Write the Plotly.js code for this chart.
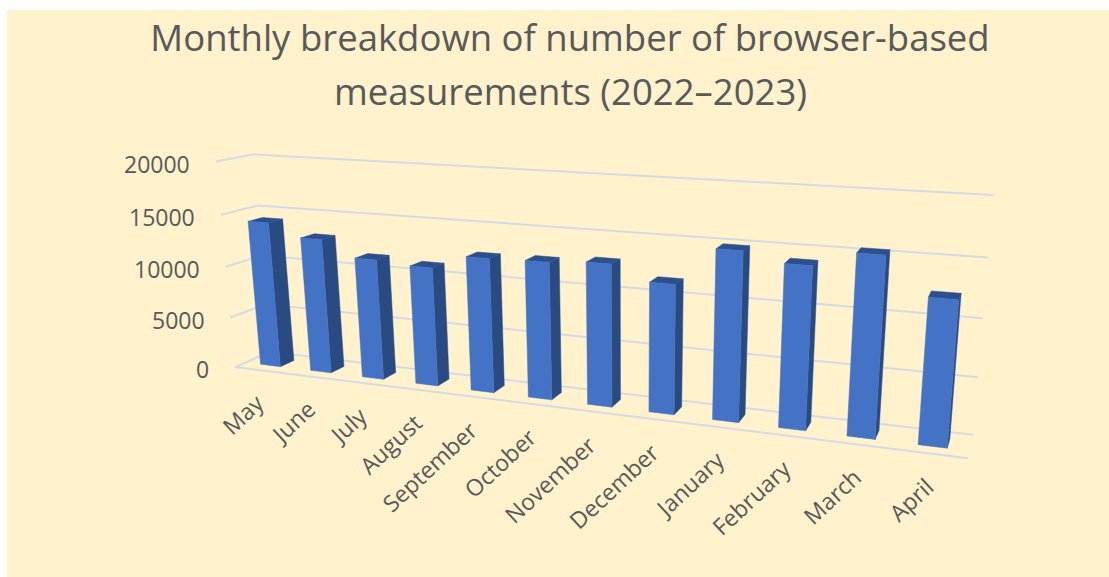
<!DOCTYPE html>
<html>
<head>
<meta charset="utf-8">
<script src="https://cdn.plot.ly/plotly-3.0.1.min.js"></script>
<style>html,body{margin:0;padding:0;background:#fff;overflow:hidden}</style>
</head>
<body>
<div id="chart" style="width:1109px;height:577px"></div>
<script>
// Monthly counts of browser-based measurements
const months = ['May','June','July','August','September','October','November','December','January','February','March','April'];
const measurements = [14200,13000,11500,11200,12500,12600,12900,11600,14900,14100,15400,12300];
const valueTicks = [0,5000,10000,15000,20000];
const axisMax = 20000;
const titleFirstLine = 'Monthly breakdown of number of browser-based';
const titleSecondLine = 'measurements (2022–2023)';

// Camera: a projective map from (category, value, depth) to the page, solved
// from where the corners of the chart box sit on screen.
const boxCorners = [
  [0,0,1,270,353],[1,0,1,973,434],[0,1,1,253,154],[1,1,1,993,195],
  [0,0,0,235,366],[1,0,0,968,459],[0,1,0,216,162]
];
function solveCamera(pts){
  const A=[],B=[];
  pts.forEach(([u,v,w,x,y])=>{
    A.push([u,v,w,1,0,0,0,0,-x*u,-x*v,-x*w]);B.push(x);
    A.push([0,0,0,0,u,v,w,1,-y*u,-y*v,-y*w]);B.push(y);
  });
  const n=11,M=[];
  for(let i=0;i<n;i++){
    const row=new Array(n+1).fill(0);
    for(let j=0;j<n;j++)for(let r=0;r<A.length;r++)row[j]+=A[r][i]*A[r][j];
    for(let r=0;r<A.length;r++)row[n]+=A[r][i]*B[r];
    M.push(row);
  }
  for(let c=0;c<n;c++){
    let p=c;for(let r=c+1;r<n;r++)if(Math.abs(M[r][c])>Math.abs(M[p][c]))p=r;
    [M[c],M[p]]=[M[p],M[c]];
    for(let r=0;r<n;r++){if(r===c)continue;const f=M[r][c]/M[c][c];for(let j=c;j<=n;j++)M[r][j]-=f*M[c][j];}
  }
  return M.map((r,i)=>r[n]/r[i]);
}
const cam=solveCamera(boxCorners);
function project(cat,val,depth){
  const u=cat/months.length,v=val/axisMax,w=depth;
  const d=cam[8]*u+cam[9]*v+cam[10]*w+1;
  return [(cam[0]*u+cam[1]*v+cam[2]*w+cam[3])/d,(cam[4]*u+cam[5]*v+cam[6]*w+cam[7])/d];
}

// Bars are 40% of a category wide and 40% of the box deep
const barShare=0.4,depthNear=0.3,depthFar=0.7;

function polyTrace(color){
  return {type:'scatter',mode:'lines',x:[],y:[],fill:'toself',fillcolor:color,
    line:{color:color,width:0.5},hoverinfo:'skip',showlegend:false};
}
function addPoly(tr,corners){
  corners.concat([corners[0]]).forEach(c=>{const p=project(c[0],c[1],c[2]);tr.x.push(p[0]);tr.y.push(p[1]);});
  tr.x.push(null);tr.y.push(null);
}
const grid={type:'scatter',mode:'lines',x:[],y:[],line:{color:'#D6DAE2',width:2},hoverinfo:'skip',showlegend:false};
function addLine(a,b){
  [a,b].forEach(c=>{const p=project(c[0],c[1],c[2]);grid.x.push(p[0]);grid.y.push(p[1]);});
  grid.x.push(null);grid.y.push(null);
}
const N=months.length;
valueTicks.forEach(t=>{
  addLine([0,t,0],[0,t,1]);
  addLine([0,t,1],[N,t,1]);
});
addLine([0,0,0],[N,0,0]);

const sideFaces=polyTrace('#2A4A82'),topFaces=polyTrace('#2C4F8E'),frontFaces=polyTrace('#4472C4');
measurements.forEach((val,i)=>{
  const l=i+0.5-barShare/2,r=i+0.5+barShare/2;
  addPoly(sideFaces,[[r,0,depthNear],[r,0,depthFar],[r,val,depthFar],[r,val,depthNear]]);
  addPoly(topFaces,[[l,val,depthNear],[r,val,depthNear],[r,val,depthFar],[l,val,depthFar]]);
  addPoly(frontFaces,[[l,0,depthNear],[r,0,depthNear],[r,val,depthNear],[l,val,depthNear]]);
});

const fontStack='"Open Sans","Noto Sans",sans-serif';
const tickFont={family:fontStack,size:23,color:'#595959'};
const titleFont={family:fontStack,size:36.5,color:'#595959'};
const annotations=[];
valueTicks.forEach(t=>{
  const p=project(0,t,0);
  annotations.push({x:p[0],y:p[1],text:String(t),showarrow:false,xanchor:'right',yanchor:'middle',
    xshift:-24,yshift:-2,font:tickFont});
});
months.forEach((m,i)=>{
  const p=project(i+0.5,0,0);
  annotations.push({x:p[0],y:p[1],text:m,showarrow:false,xanchor:'right',yanchor:'top',textangle:-43,
    xshift:13,yshift:-14,font:tickFont});
});
annotations.push({x:570,y:91,text:titleSecondLine,showarrow:false,xanchor:'center',yanchor:'middle',font:titleFont});

Plotly.newPlot('chart',[grid,sideFaces,topFaces,frontFaces],{
  width:1109,height:577,
  paper_bgcolor:'#FFFFFF',plot_bgcolor:'#FFF2CC',
  margin:{l:7,r:0,t:10,b:0,pad:0},
  showlegend:false,
  title:{text:titleFirstLine,font:titleFont,
    x:570/1109,xanchor:'center',y:1-38/577,yanchor:'middle'},
  xaxis:{visible:false,range:[7,1109],fixedrange:true},
  yaxis:{visible:false,range:[577,10],fixedrange:true},
  annotations:annotations
},{displayModeBar:false,staticPlot:true});
</script>
</body>
</html>
